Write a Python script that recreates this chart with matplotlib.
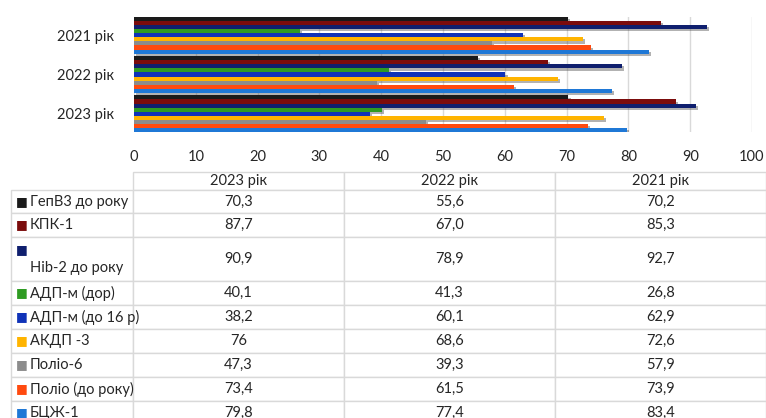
import numpy as np
import matplotlib
matplotlib.use("Agg")
import matplotlib.pyplot as plt
import matplotlib.patheffects as pe
from matplotlib.table import Table

plt.rcParams['font.family'] = ['Lato', 'Open Sans', 'DejaVu Sans']

years = ['2023 рік', '2022 рік', '2021 рік']
vaccines = ['ГепВ3 до року', 'КПК-1', 'Hib-2 до року', 'АДП-м (дор)', 'АДП-м (до 16 р)',
            'АКДП -3', 'Поліо-6', 'Поліо (до року)', 'БЦЖ-1']
v2023 = [70.3, 87.7, 90.9, 40.1, 38.2, 76, 47.3, 73.4, 79.8]
v2022 = [55.6, 67.0, 78.9, 41.3, 60.1, 68.6, 39.3, 61.5, 77.4]
v2021 = [70.2, 85.3, 92.7, 26.8, 62.9, 72.6, 57.9, 73.9, 83.4]
x_ticks = list(range(0, 101, 10))

colors = ['#1a1a1a', '#7b0c0c', '#0f1f6e', '#2e9b22', '#1033b8',
          '#ffb400', '#8c8c8c', '#ff4a0f', '#1f78d6']
text_col = '#262626'

W, H = 766, 418
fig = plt.figure(figsize=(W / 100, H / 100), dpi=100)

# ---- bar chart ----
ax = fig.add_axes([134 / W, 1 - 132 / H, (752 - 134) / W, (132 - 17) / H])
data = np.array([v2023, v2022, v2021])  # rows = years (bottom to top)
n = len(vaccines)
group = 0.93
h = group / n
ypos = np.arange(len(years))
for i in range(n):
    off = (n / 2 - 0.5 - i) * h
    ax.barh(ypos + off, data[:, i], height=h, color=colors[i], zorder=3,
            path_effects=[pe.SimplePatchShadow(offset=(1.5, -1.5), shadow_rgbFace='#555555', alpha=0.45),
                          pe.Normal()])

ax.set_xlim(0, 100)
ax.set_ylim(-group / 2 - 0.005, len(years) - 1 + group / 2 + 0.005)
ax.set_xticks(x_ticks)
ax.set_yticks(ypos)
ax.set_yticklabels(years)
ax.grid(axis='x', color='#d9d9d9', linewidth=1, zorder=0)
ax.tick_params(length=0, labelsize=10.5, colors=text_col)
ax.tick_params(axis='x', pad=13)
ax.tick_params(axis='y', pad=14)
for s in ax.spines.values():
    s.set_visible(False)

# ---- data table ----
header_h = 18
row_h = [23, 24, 44, 24, 24, 24, 24, 24, 24]
label_w, col_w = 122, 211
tab_h = header_h + sum(row_h)
tw = label_w + 3 * col_w
tab_top = 172
axt = fig.add_axes([11 / W, 1 - (tab_top + tab_h) / H, tw / W, tab_h / H])
axt.axis('off')


def fmt(v):
    return str(v) if isinstance(v, int) else f"{v:.1f}".replace('.', ',')


cell_text = [[fmt(v2023[i]), fmt(v2022[i]), fmt(v2021[i])] for i in range(n)]
# column 0 holds the row labels (drawn separately), no top-left corner cell
tbl = Table(axt, bbox=[0, 0, 1, 1])
for j, yr in enumerate(years):
    tbl.add_cell(0, j + 1, width=col_w, height=header_h, text=yr, loc='center')
for i in range(n):
    tbl.add_cell(i + 1, 0, width=label_w, height=row_h[i], text='')
    for j in range(3):
        tbl.add_cell(i + 1, j + 1, width=col_w, height=row_h[i], text=cell_text[i][j], loc='center')
tbl.auto_set_font_size(False)
tbl.set_fontsize(10.5)
for cell in tbl.get_celld().values():
    cell.set_edgecolor('#d9d9d9')
    cell.set_linewidth(1)
    cell.get_text().set_color(text_col)
axt.add_table(tbl)

# row labels with coloured legend squares
top = header_h
for i, name in enumerate(vaccines):
    rh = row_h[i]
    if rh > 30:
        ysq = 1 - (top + 13) / tab_h
        ytx = 1 - (top + 31) / tab_h
    else:
        ysq = ytx = 1 - (top + rh / 2) / tab_h
    axt.text(5 / tw, ysq, '■', color=colors[i], fontsize=9, va='center', ha='left',
             family='DejaVu Sans')
    axt.text(19 / tw, ytx, name, fontsize=10.5, va='center', ha='left', color=text_col)
    top += rh

fig.savefig('out.png', dpi=100)
